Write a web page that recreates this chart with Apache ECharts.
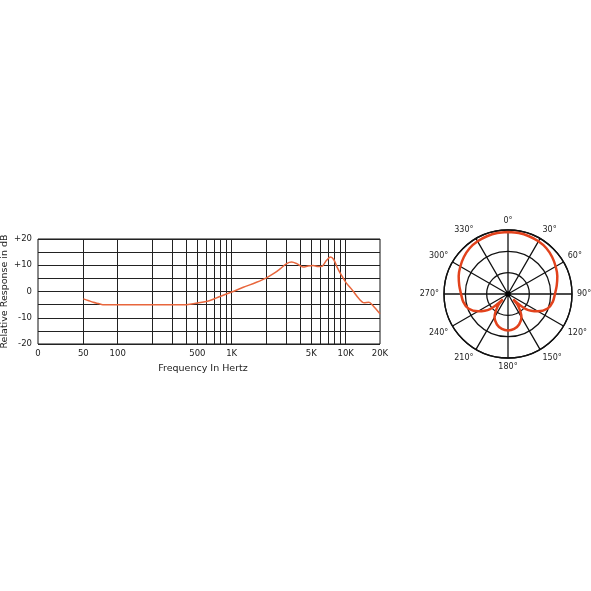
<!DOCTYPE html>
<html><head><meta charset="utf-8">
<script src="https://cdn.jsdelivr.net/npm/echarts@6/dist/echarts.min.js"></script>
<style>html,body{margin:0;padding:0;background:#fff}#c{width:591px;height:591px}</style>
</head><body><div id="c"></div>
<script>
// Frequency response
const freqHz = [50, 55, 61, 68, 74, 80, 100, 150, 200, 300, 400, 430, 500, 645, 789, 1000, 1264, 1650, 2000, 2400, 2654, 3035, 3360, 3720, 4240, 4680, 5180, 5720, 6240, 6770, 7340, 7850, 8400, 9200, 10100, 11500, 13100, 14500, 16000, 17300, 20000];
const respDb = [-2.8, -3.4, -4.1, -4.6, -5.0, -5.0, -5.0, -5.0, -5.0, -5.0, -5.0, -4.9, -4.4, -3.4, -1.9, -0.2, 1.6, 3.5, 5.1, 7.2, 8.6, 10.6, 11.2, 10.6, 9.3, 9.7, 9.9, 9.5, 9.7, 11.8, 13.1, 12.2, 9.3, 6.1, 3.3, 0.4, -2.8, -4.3, -4.1, -5.3, -8.5];
const gridFreqs = [50, 100, 200, 300, 400, 500, 600, 700, 800, 900, 1000, 2000, 3000, 4000, 5000, 6000, 7000, 8000, 9000, 10000];
const xLabelValues = [20, 50, 100, 500, 1000, 5000, 10000, 20000];
const xLabelTexts = ['0', '50', '100', '500', '1K', '5K', '10K', '20K'];
// Polar pattern (radius on 0..30 scale, angle in degrees)
const polarAngles = [0, 10, 20, 30, 40, 50, 60, 70, 80, 90, 100, 110, 120, 130, 136, 140, 150, 160, 170, 180, 190, 200, 210, 220, 224, 230, 240, 250, 260, 270, 280, 290, 300, 310, 320, 330, 340, 350, 360];
const polarRadius = [29.1, 29.0, 28.8, 28.5, 28.0, 27.0, 25.8, 24.6, 23.2, 22.0, 21.3, 19.8, 16.2, 11.0, 3.5, 7.5, 12.6, 15.2, 16.6, 17.1, 16.6, 15.2, 12.6, 7.5, 3.5, 11.0, 16.2, 19.8, 21.3, 22.0, 23.2, 24.6, 25.8, 27.0, 28.0, 28.5, 28.8, 29.0, 29.1];
const angleLabels = ['0°','30°','60°','90°','120°','150°','180°','210°','240°','270°','300°','330°'];

const FONT = 'DejaVu Sans';
const chart = echarts.init(document.getElementById('c'), null, {renderer: 'canvas'});
chart.setOption({
  backgroundColor: '#fff',
  animation: false,
  grid: {left: 38, right: 211, top: 239, bottom: 247, containLabel: false, outerBoundsMode: 'none',
    show: true, borderColor: '#111', borderWidth: 1, backgroundColor: 'transparent'},
  xAxis: {
    type: 'log', logBase: 10, min: 20, max: 20000,
    name: 'Frequency In Hertz', nameLocation: 'middle', nameGap: 20, nameMoveOverlap: false,
    nameTextStyle: {fontFamily: FONT, fontSize: 9.5, color: '#222', padding: [0, 12, 0, 0]},
    axisLine: {show: false}, axisTick: {show: false}, splitLine: {show: false},
    axisLabel: {
      customValues: xLabelValues,
      fontFamily: FONT, fontSize: 8.5, color: '#222', margin: 5,
      formatter: v => { const i = xLabelValues.findIndex(x => Math.abs(x - v) / x < 1e-6); return i >= 0 ? xLabelTexts[i] : ''; }
    }
  },
  yAxis: {
    type: 'value', min: -20, max: 20, interval: 5,
    name: 'Relative Response in dB', nameLocation: 'middle', nameGap: 28, nameMoveOverlap: false,
    nameTextStyle: {fontFamily: FONT, fontSize: 9.5, color: '#222'},
    axisLine: {show: false}, axisTick: {show: false},
    splitLine: {show: true, lineStyle: {color: '#222', width: 1}},
    axisLabel: {fontFamily: FONT, fontSize: 8.5, color: '#222', margin: 6,
      formatter: v => (v % 10 !== 0) ? '' : (v > 0 ? '+' + v : String(v))}
  },
  polar: {center: [508, 294], radius: 64},
  angleAxis: {
    type: 'value', min: 0, max: 360, interval: 30, startAngle: 90, clockwise: true,
    axisLine: {show: true, lineStyle: {color: '#111', width: 1.3}},
    axisTick: {show: false},
    splitLine: {show: true, lineStyle: {color: '#111', width: 1.3}},
    axisLabel: {fontFamily: FONT, fontSize: 8, color: '#222', margin: 5,
      formatter: v => v >= 360 ? '' : angleLabels[Math.round(v / 30)]}
  },
  radiusAxis: {
    type: 'value', min: 0, max: 30, interval: 10,
    axisLine: {show: false}, axisTick: {show: false}, axisLabel: {show: false},
    splitLine: {show: true, lineStyle: {color: '#111', width: 1.3}}
  },
  series: [
    {
      type: 'line', xAxisIndex: 0, yAxisIndex: 0,
      data: freqHz.map((f, i) => [f, respDb[i]]),
      showSymbol: false, smooth: 0.3,
      lineStyle: {color: '#e8663c', width: 1.5},
      markLine: {
        silent: true, symbol: ['none', 'none'], animation: false,
        label: {show: false},
        lineStyle: {color: '#222', width: 1, type: 'solid'},
        data: gridFreqs.map(f => ({xAxis: f}))
      },
      z: 5
    },
    {
      type: 'line', coordinateSystem: 'polar',
      data: polarRadius.map((r, i) => [r, polarAngles[i]]),
      showSymbol: false, smooth: 0.3,
      lineStyle: {color: '#e2421c', width: 2.5},
      z: 5
    },
    {
      type: 'scatter', coordinateSystem: 'polar',
      data: [[0, 0]], symbolSize: 5,
      itemStyle: {color: '#000'}, z: 6
    }
  ]
});
</script>
</body></html>
